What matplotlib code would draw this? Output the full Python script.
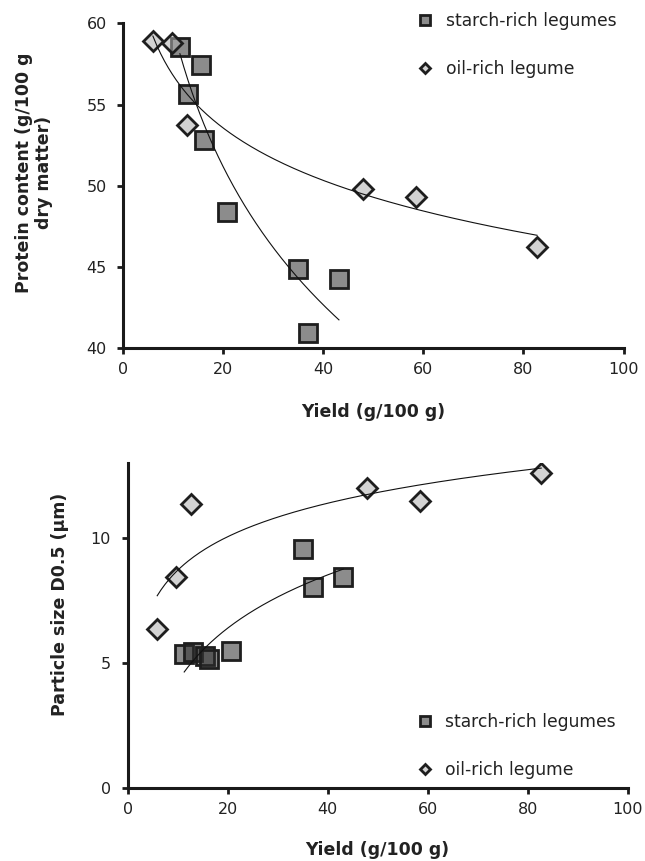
import numpy as np
import matplotlib
matplotlib.use('Agg')
import matplotlib.pyplot as plt
from matplotlib.lines import Line2D

# Yield (g/100 g) per legume, shared by both panels
starch_yield = [11.3, 13.0, 15.5, 16.2, 20.7, 35.0, 37.0, 43.1]
oil_yield = [5.9, 9.7, 12.7, 47.9, 58.5, 82.7]

# Protein content (g/100 g dry matter)
starch_protein = [58.56, 55.63, 57.43, 52.82, 48.41, 44.86, 40.96, 44.25]
oil_protein = [58.9, 58.77, 53.74, 49.8, 49.33, 46.25]

# Particle size D0.5 (um)
starch_size = [5.35, 5.42, 5.28, 5.15, 5.46, 9.56, 8.01, 8.41]
oil_size = [6.35, 8.41, 11.35, 11.97, 11.46, 12.57]

sq_face = (0.18, 0.18, 0.18, 0.55)
dm_face = (0.69, 0.69, 0.69, 0.55)
edge = '#1e1e1e'
text_col = '#222222'

plt.rcParams['font.family'] = 'DejaVu Sans'
fig = plt.figure(figsize=(6.45, 8.61), dpi=100)
ax1 = fig.add_axes([0.1913, 0.5955, 0.7754, 0.3774])
ax2 = fig.add_axes([0.198, 0.0851, 0.7752, 0.3775])


def log_trend(ax, x, y):
    # Excel-style logarithmic trendline over the data range
    a, b = np.polyfit(np.log(x), y, 1)
    xs = np.linspace(min(x), max(x), 200)
    ax.plot(xs, a * np.log(xs) + b, color='#111111', lw=0.8, zorder=4)


def style(ax):
    for s in ['top', 'right']:
        ax.spines[s].set_visible(False)
    for s in ['left', 'bottom']:
        ax.spines[s].set_linewidth(2.2)
        ax.spines[s].set_color('#1a1a1a')
    ax.tick_params(direction='out', length=4, width=2, color='#1a1a1a',
                   labelsize=11.5, labelcolor=text_col)
    ax.tick_params(axis='x', pad=6)
    ax.tick_params(axis='y', pad=8)
    ax.set_xlim(0, 100)
    ax.set_xticks([0, 20, 40, 60, 80, 100])
    ax.set_xlabel('Yield (g/100 g)', fontsize=12.5, fontweight='bold',
                  color=text_col, va='top')


def legend(ax, x, y):
    handles = [
        Line2D([], [], marker='s', ls='', markersize=7.5, mfc=sq_face,
               mec=edge, mew=2, label='starch-rich legumes'),
        Line2D([], [], marker='D', ls='', markersize=5.5, mfc=dm_face,
               mec=edge, mew=2, label='oil-rich legume'),
    ]
    ax.legend(handles=handles, loc='upper left', bbox_to_anchor=(x, y),
              frameon=False, fontsize=12.3, handlelength=1.0,
              handletextpad=0.7, labelspacing=1.75, borderpad=0,
              borderaxespad=0, labelcolor=text_col)


# Panel 1: protein content
ax1.plot(starch_yield, starch_protein, 's', ls='', markersize=13,
         mfc=sq_face, mec=edge, mew=2, zorder=3)
ax1.plot(oil_yield, oil_protein, 'D', ls='', markersize=10.5,
         mfc=dm_face, mec=edge, mew=2, zorder=3)
log_trend(ax1, starch_yield, starch_protein)
log_trend(ax1, oil_yield, oil_protein)
style(ax1)
ax1.set_ylim(40, 60)
ax1.set_yticks([40, 45, 50, 55, 60])
ax1.set_ylabel('Protein content (g/100 g\ndry matter)', fontsize=12.5,
               fontweight='bold', color=text_col, multialignment='center')
ax1.yaxis.set_label_coords(-0.14, 0.54)
ax1.xaxis.set_label_coords(0.5, -0.168)
legend(ax1, 0.586, 1.034)

# Panel 2: particle size
ax2.plot(starch_yield, starch_size, 's', ls='', markersize=13,
         mfc=sq_face, mec=edge, mew=2, zorder=3)
ax2.plot(oil_yield, oil_size, 'D', ls='', markersize=10.5,
         mfc=dm_face, mec=edge, mew=2, zorder=3)
log_trend(ax2, starch_yield, starch_size)
log_trend(ax2, oil_yield, oil_size)
style(ax2)
ax2.set_ylim(0, 13)
ax2.set_yticks([0, 5, 10])
ax2.set_ylabel('Particle size D0.5 (µm)', fontsize=12.5,
               fontweight='bold', color=text_col)
ax2.yaxis.set_label_coords(-0.117, 0.565)
ax2.xaxis.set_label_coords(0.5, -0.164)
legend(ax2, 0.577, 0.23)

fig.savefig('out.png', dpi=100)
